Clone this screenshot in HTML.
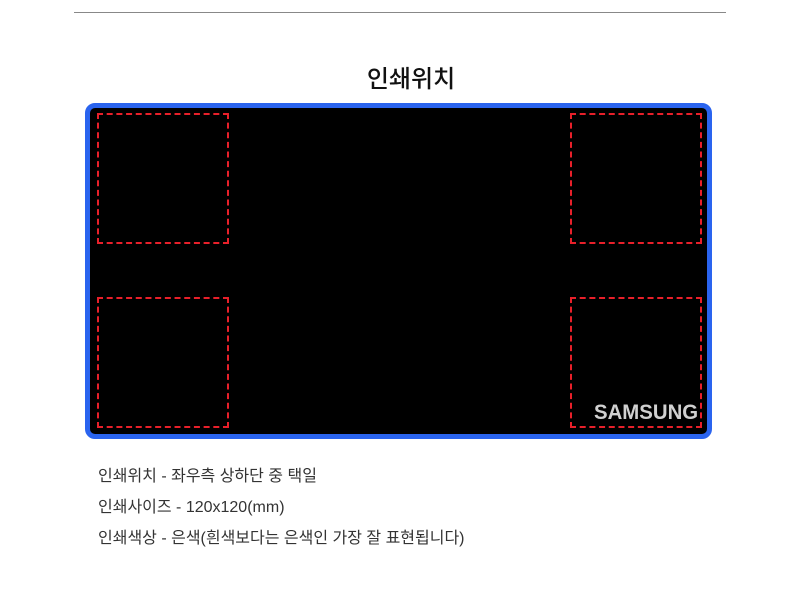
<!DOCTYPE html>
<html><head><meta charset="utf-8"><style>
body{margin:0;width:800px;height:600px;background:#fff;position:relative;font-family:"Liberation Sans","Noto Sans CJK KR",sans-serif;overflow:hidden}
.hr{position:absolute;left:74px;top:12px;width:652px;height:1px;background:#888}
.title{position:absolute;left:0;width:822px;text-align:center;top:59px;font-size:24px;color:#111;font-weight:500}
.pad{position:absolute;left:85px;top:103px;width:617px;height:326px;background:#000;border:5px solid #2a64ef;border-radius:10px}
.d{position:absolute;width:128px;height:127px;border:2px dashed #e8202a;box-sizing:content-box}
.s{position:absolute;left:594px;top:401px;font-size:21px;font-weight:bold;color:#d0d0d0;transform:scaleX(0.97);transform-origin:left}
.t{position:absolute;left:98px;font-size:16px;color:#333}
</style></head><body>
<div class="hr"></div>
<div class="title">인쇄위치</div>
<div class="pad"></div>
<div class="d" style="left:97px;top:113px"></div>
<div class="d" style="left:97px;top:297px"></div>
<div class="d" style="left:570px;top:113px"></div>
<div class="d" style="left:570px;top:297px"></div>
<div class="s">SAMSUNG</div>
<div class="t" style="top:462px">인쇄위치 - 좌우측 상하단 중 택일</div>
<div class="t" style="top:493px">인쇄사이즈 - 120x120(mm)</div>
<div class="t" style="top:524px">인쇄색상 - 은색(흰색보다는 은색인 가장 잘 표현됩니다)</div>
</body></html>
